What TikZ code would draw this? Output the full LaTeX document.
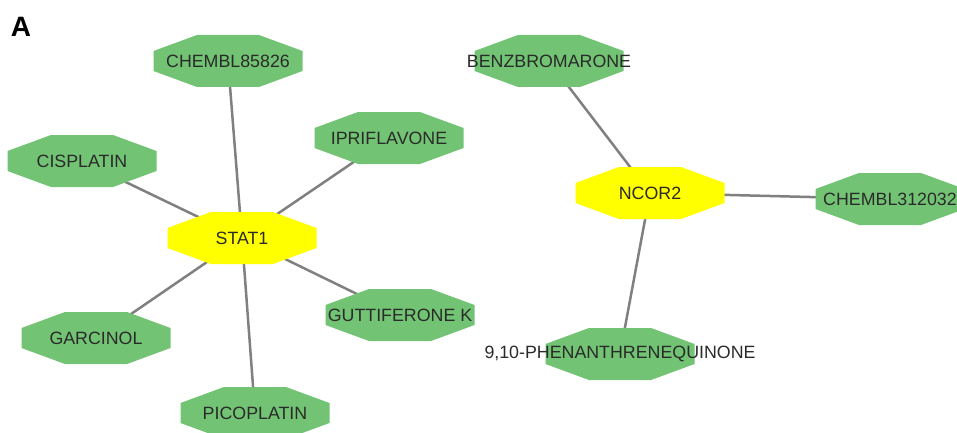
\documentclass[tikz,border=0pt]{standalone}
\usepackage{fontspec}
\setmainfont{Liberation Sans}
\usetikzlibrary{backgrounds}
\definecolor{drugg}{HTML}{72C474}
\definecolor{geney}{HTML}{FFFF00}
\definecolor{edgeg}{HTML}{808080}
\definecolor{txt}{HTML}{2A2A2A}
\tikzset{
  x=1pt,y=1pt,
  octbase/.style={shape=rectangle, minimum width=149pt, minimum height=52pt, inner sep=0pt, outer sep=0pt,
    text=txt, font=\fontsize{17.8}{20}\selectfont,
    path picture={\fill[#1]
      ([shift={(-74.5pt,-10pt)}]path picture bounding box.center) --
      ([shift={(-74.5pt,10pt)}]path picture bounding box.center) --
      ([shift={(-31pt,26pt)}]path picture bounding box.center) --
      ([shift={(31pt,26pt)}]path picture bounding box.center) --
      ([shift={(74.5pt,10pt)}]path picture bounding box.center) --
      ([shift={(74.5pt,-10pt)}]path picture bounding box.center) --
      ([shift={(31pt,-26pt)}]path picture bounding box.center) --
      ([shift={(-31pt,-26pt)}]path picture bounding box.center) -- cycle;}},
  drug/.style={octbase=drugg},
  gene/.style={octbase=geney},
  edge/.style={draw=edgeg, line width=2.5pt}
}
\begin{document}
\begin{tikzpicture}
\useasboundingbox (0,0) rectangle (957,432);
\node[font=\fontsize{28}{30}\selectfont\bfseries, text=black] (lab) at (21,405) {A};
\node[gene] (stat1) at (242,194) {STAT1};
\node[gene] (ncor2) at (650,239) {NCOR2};
\node[drug] (chembl85826) at (228,371) {CHEMBL85826};
\node[drug] (cisplatin) at (82,271) {CISPLATIN};
\node[drug] (ipriflavone) at (389,294) {IPRIFLAVONE};
\node[drug] (guttiferone) at (400,117) {GUTTIFERONE K};
\node[drug] (garcinol) at (96,94) {GARCINOL};
\node[drug] (picoplatin) at (255,19) {PICOPLATIN};
\node[drug] (benz) at (549,371) {BENZBROMARONE};
\node[drug] (chembl312032) at (890,233) {CHEMBL312032};
\node[drug] (phen) at (620,78) {9,10-PHENANTHRENEQUINONE};
\begin{scope}[on background layer]
\foreach \d in {chembl85826,cisplatin,ipriflavone,guttiferone,garcinol,picoplatin}
  \draw[edge] (stat1.center) -- (\d.center);
\foreach \d in {benz,chembl312032,phen}
  \draw[edge] (ncor2.center) -- (\d.center);
\end{scope}
\end{tikzpicture}
\end{document}
